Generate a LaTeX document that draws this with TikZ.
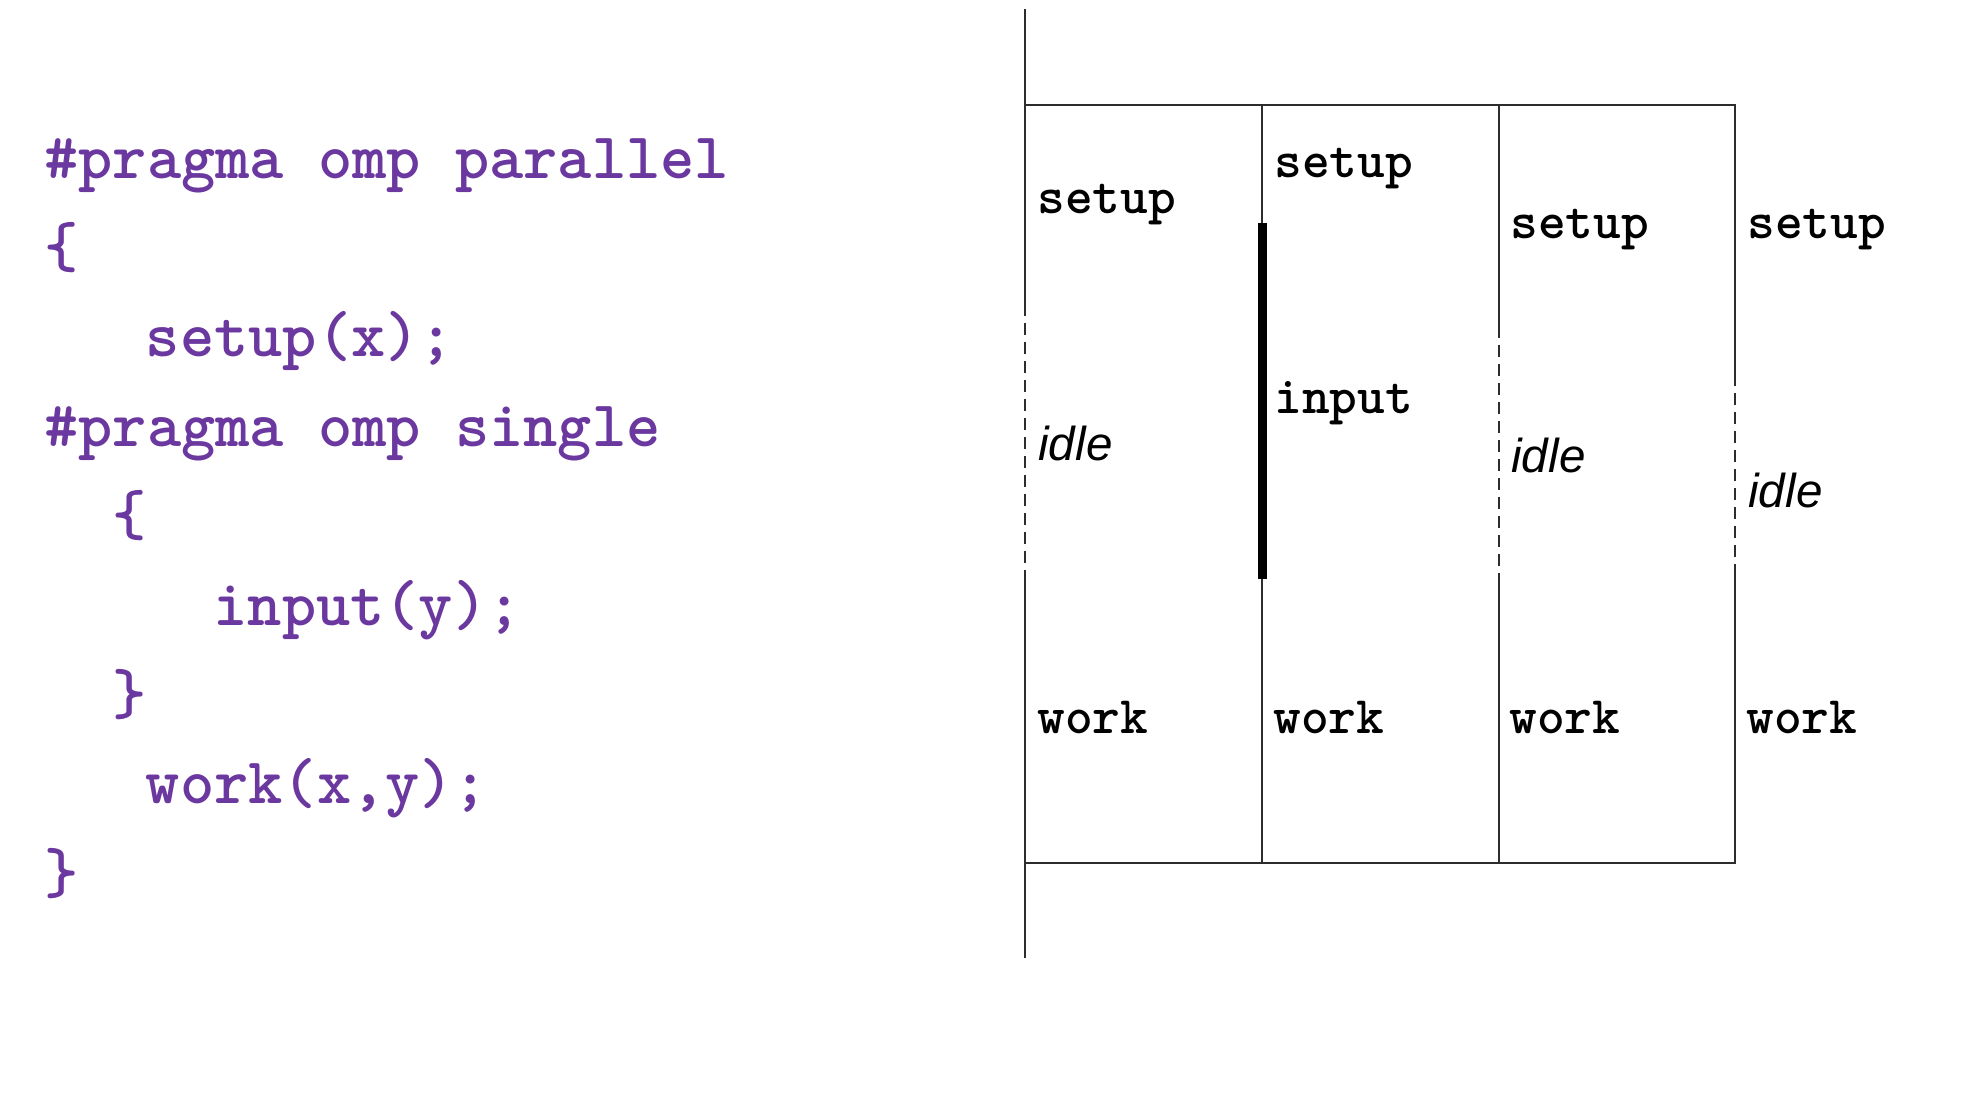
\documentclass[tikz,border=0pt]{standalone}
\usepackage{fontspec}
\newfontfamily\idlefont{Liberation Sans}
\definecolor{codepurple}{RGB}{107,56,160}
\definecolor{linegray}{RGB}{45,45,45}
\begin{document}
\begin{tikzpicture}[x=0.5pt,y=-0.5pt,
  code/.style={anchor=base west, inner sep=0pt, text=codepurple, font=\fontsize{32.6}{38}\selectfont\ttfamily\bfseries},
  lbl/.style={anchor=base west, inner sep=0pt, font=\fontsize{26.4}{30}\selectfont\ttfamily\bfseries},
  idl/.style={anchor=base west, inner sep=0pt, font=\fontsize{23.8}{28}\selectfont\idlefont\itshape},
  ln/.style={line width=1pt, draw=linegray},
  dsh/.style={ln, dash pattern=on 6pt off 3.5pt, dash phase=6pt},
  thickbar/.style={line width=4.5pt, draw=black}]
\useasboundingbox (0,0) rectangle (1964,1092);

% code listing
\node[code] (l1) at (44,178)    {\#pragma omp parallel};
\node[code] (l2) at (44,267.4)  {\{};
\node[code] (l3) at (145.5,356.8) {setup(x);};
\node[code] (l4) at (44,446.2)  {\#pragma omp single};
\node[code] (l5) at (111.7,535.6) {\{};
\node[code] (l6) at (213.2,625)   {input(y);};
\node[code] (l7) at (111.7,714.4) {\}};
\node[code] (l8) at (145.5,803.8) {work(x,y);};
\node[code] (l9) at (44,893.2)  {\}};

% coordinates of the timeline frame
\coordinate (mtop) at (1025,9);
\coordinate (tl) at (1025,105);
\coordinate (c1a) at (1025,316);
\coordinate (c1b) at (1025,571);
\coordinate (bl) at (1025,863);
\coordinate (mbot) at (1025,958);

\coordinate (c2t) at (1262,105);
\coordinate (c2a) at (1262,223);
\coordinate (c2b) at (1262,579);
\coordinate (c2d) at (1262,863);

\coordinate (c3t) at (1499,105);
\coordinate (c3a) at (1499,338);
\coordinate (c3b) at (1499,577);
\coordinate (c3d) at (1499,863);

\coordinate (tr) at (1735,105);
\coordinate (c4a) at (1735,386);
\coordinate (c4b) at (1735,565);
\coordinate (br) at (1735,863);

% frame
\draw[ln] (mtop) -- (c1a);
\draw[dsh] (c1a) -- (c1b);
\draw[ln] (c1b) -- (mbot);
\draw[ln] (tl) -- (tr) -- (c4a);
\draw[dsh] (c4a) -- (c4b);
\draw[ln] (c4b) -- (br) -- (bl);

\draw[ln] (c2t) -- (c2a);
\draw[thickbar] (c2a) -- (c2b);
\draw[ln] (c2b) -- (c2d);

\draw[ln] (c3t) -- (c3a);
\draw[dsh] (c3a) -- (c3b);
\draw[ln] (c3b) -- (c3d);

% labels
\node[lbl] (s1) at (1037,213) {setup};
\node[lbl] (s2) at (1274,177) {setup};
\node[lbl] (s3) at (1510,238) {setup};
\node[lbl] (s4) at (1747,238) {setup};

\node[lbl] (inp) at (1274,413) {input};

\node[idl] (i1) at (1038,460) {idle};
\node[idl] (i3) at (1511,472) {idle};
\node[idl] (i4) at (1748,507) {idle};

\node[lbl] (w1) at (1037,733) {work};
\node[lbl] (w2) at (1273,733) {work};
\node[lbl] (w3) at (1509,733) {work};
\node[lbl] (w4) at (1746,733) {work};
\end{tikzpicture}
\end{document}
